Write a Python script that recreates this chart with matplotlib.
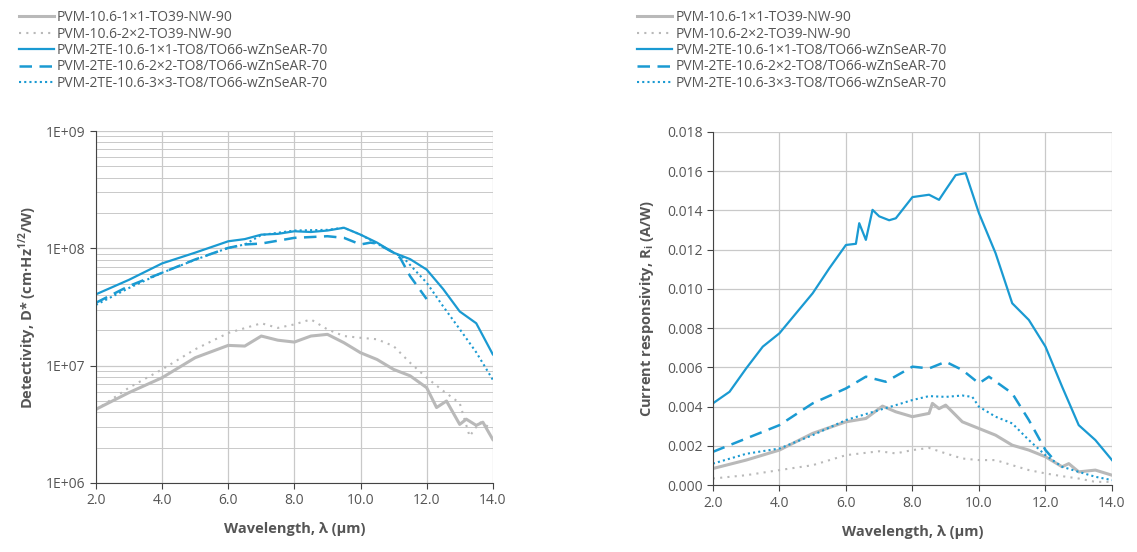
import matplotlib.pyplot as plt
from matplotlib.lines import Line2D
from matplotlib.ticker import FixedLocator, LogLocator, NullFormatter

plt.rcParams["font.family"] = ["Open Sans", "DejaVu Sans"]

BLUE = "#1a9ad2"
GRAY = "#b9b9b9"
TEXT = "#555555"
GRID = "#c9c9c9"

labels = [
    "PVM-10.6-1\u00d71-TO39-NW-90",
    "PVM-10.6-2\u00d72-TO39-NW-90",
    "PVM-2TE-10.6-1\u00d71-TO8/TO66-wZnSeAR-70",
    "PVM-2TE-10.6-2\u00d72-TO8/TO66-wZnSeAR-70",
    "PVM-2TE-10.6-3\u00d73-TO8/TO66-wZnSeAR-70",
]

# --- Detectivity (left chart) ---
d_gray1_x = [2, 3, 4, 5, 6, 6.5, 7, 7.5, 8, 8.5, 9, 9.5, 10, 10.5, 11, 11.5, 12, 12.3, 12.6, 13, 13.2, 13.5, 13.7, 14]
d_gray1_y = [4.25e6, 5.9e6, 7.9e6, 1.17e7, 1.49e7, 1.47e7, 1.79e7, 1.65e7, 1.59e7, 1.79e7, 1.85e7, 1.57e7,
             1.29e7, 1.13e7, 9.3e6, 8.2e6, 6.5e6, 4.4e6, 5.0e6, 3.16e6, 3.5e6, 3.1e6, 3.3e6, 2.35e6]
d_gray2_x = [2, 3, 4, 5, 6, 7, 7.5, 8, 8.5, 9, 9.5, 10, 10.5, 11, 11.5, 12, 12.5, 13, 13.3, 13.6, 14]
d_gray2_y = [4.2e6, 6.5e6, 9.3e6, 1.38e7, 1.9e7, 2.3e7, 2.1e7, 2.25e7, 2.48e7, 2.04e7, 1.79e7, 1.73e7,
             1.68e7, 1.47e7, 1.06e7, 7.9e6, 6.1e6, 4.8e6, 2.5e6, 3.3e6, 2.9e6]
d_blue1_x = [2, 3, 4, 5, 6, 6.5, 7, 7.5, 8, 8.5, 9, 9.5, 10, 10.5, 11, 11.5, 12, 12.5, 13, 13.5, 14]
d_blue1_y = [4.06e7, 5.4e7, 7.45e7, 9.2e7, 1.15e8, 1.2e8, 1.31e8, 1.33e8, 1.40e8, 1.38e8, 1.42e8, 1.5e8,
             1.31e8, 1.12e8, 9.2e7, 8.1e7, 6.6e7, 4.5e7, 2.9e7, 2.3e7, 1.25e7]
d_blue2_x = [2, 3, 4, 5, 6, 6.5, 7, 8, 9, 9.5, 10, 10.3, 10.5, 11, 11.2, 11.5, 12]
d_blue2_y = [3.44e7, 4.78e7, 6.2e7, 8.05e7, 1.01e8, 1.08e8, 1.1e8, 1.23e8, 1.27e8, 1.23e8, 1.08e8, 1.12e8,
             1.1e8, 9.2e7, 8.3e7, 5.8e7, 3.7e7]
d_blue3_x = [2, 3, 4, 5, 6, 6.5, 7, 8, 9, 9.5, 10, 11, 11.3, 12, 12.5, 13, 13.5, 14]
d_blue3_y = [3.3e7, 4.6e7, 6.2e7, 8.0e7, 1.01e8, 1.08e8, 1.3e8, 1.42e8, 1.44e8, 1.5e8, 1.31e8, 9.2e7,
             8.3e7, 5.1e7, 3.2e7, 2.05e7, 1.3e7, 7.6e6]

# --- Current responsivity (right chart) ---
r_gray1_x = [2, 3, 4, 5, 6, 6.6, 7.1, 7.5, 8, 8.5, 8.6, 8.8, 9, 9.5, 10, 10.5, 11, 11.5, 12, 12.5, 12.7, 13, 13.5, 14]
r_gray1_y = [0.00085, 0.00128, 0.00179, 0.00264, 0.00323, 0.0034, 0.00403, 0.00374, 0.00349, 0.00366, 0.00417,
             0.0039, 0.00408, 0.00323, 0.00289, 0.00255, 0.00204, 0.00179, 0.00145, 0.00094, 0.0011, 0.00068,
             0.00077, 0.00051]
r_gray2_x = [2, 3, 4, 5, 6, 7, 7.5, 8, 8.5, 9, 9.5, 10, 10.5, 11, 11.5, 12, 12.5, 13, 13.5, 14]
r_gray2_y = [0.00034, 0.00051, 0.00077, 0.00102, 0.00153, 0.00173, 0.00162, 0.00179, 0.0019, 0.00162, 0.00136,
             0.00128, 0.00128, 0.00102, 0.00077, 0.0006, 0.00046, 0.00034, 0.00017, 0.00017]
r_blue1_x = [2, 2.5, 3, 3.5, 4, 4.5, 5, 5.5, 6, 6.3, 6.4, 6.6, 6.8, 7, 7.3, 7.5, 8, 8.5, 8.8, 9, 9.3, 9.6,
             10, 10.5, 11, 11.5, 12, 12.5, 13, 13.5, 14]
r_blue1_y = [0.00417, 0.00476, 0.00595, 0.00706, 0.00774, 0.00876, 0.00978, 0.01105, 0.01224, 0.0123, 0.01335,
             0.0125, 0.01403, 0.0137, 0.0135, 0.0136, 0.01468, 0.0148, 0.01454, 0.01505, 0.0158, 0.0159,
             0.01386, 0.01182, 0.00927, 0.00842, 0.00706, 0.00502, 0.00306, 0.0023, 0.00128]
r_blue2_x = [2, 3, 4, 5, 6, 6.6, 7.2, 8, 8.5, 9, 9.5, 10, 10.3, 11, 11.5, 12, 12.2]
r_blue2_y = [0.0017, 0.00238, 0.00306, 0.00417, 0.00493, 0.00553, 0.00527, 0.00604, 0.00595, 0.00629, 0.00587,
             0.00519, 0.00553, 0.00468, 0.00332, 0.00179, 0.0014]
r_blue3_x = [2, 3, 4, 5, 6, 7, 7.5, 8, 8.5, 9, 9.5, 9.8, 10, 10.5, 11, 11.5, 12, 12.5, 13, 13.5, 14]
r_blue3_y = [0.0011, 0.0016, 0.00187, 0.00255, 0.00332, 0.00383, 0.00408, 0.00434, 0.00454, 0.0045, 0.00457,
             0.0045, 0.004, 0.00349, 0.00315, 0.0023, 0.00153, 0.00094, 0.00068, 0.00043, 0.00026]

styles = [
    dict(color=GRAY, lw=2.2, ls="-"),
    dict(color=GRAY, lw=1.5, ls=(0, (1, 2.5))),
    dict(color=BLUE, lw=1.6, ls="-"),
    dict(color=BLUE, lw=1.8, ls=(0, (5, 3))),
    dict(color=BLUE, lw=1.5, ls=(0, (1, 1.5))),
]

fig = plt.figure(figsize=(11.37, 5.52), dpi=100)
ax1 = fig.add_axes([0.0844, 0.125, 0.349, 0.6375])
ax2 = fig.add_axes([0.627, 0.121, 0.351, 0.640])

left_series = [(d_gray1_x, d_gray1_y), (d_gray2_x, d_gray2_y), (d_blue1_x, d_blue1_y),
               (d_blue2_x, d_blue2_y), (d_blue3_x, d_blue3_y)]
right_series = [(r_gray1_x, r_gray1_y), (r_gray2_x, r_gray2_y), (r_blue1_x, r_blue1_y),
                (r_blue2_x, r_blue2_y), (r_blue3_x, r_blue3_y)]

for (x, y), st in zip(left_series, styles):
    ax1.plot(x, y, **st)
for (x, y), st in zip(right_series, styles):
    ax2.plot(x, y, **st)

xticks = [2, 4, 6, 8, 10, 12, 14]
for ax in (ax1, ax2):
    ax.set_xlim(2, 14)
    ax.set_xticks(xticks)
    ax.set_xticklabels(["%.1f" % v for v in xticks])
    ax.grid(True, which="major", color=GRID, lw=0.9)
    ax.set_axisbelow(True)
    for s in ("top", "right"):
        ax.spines[s].set_visible(False)
    for s in ("left", "bottom"):
        ax.spines[s].set_color("#444444")
    ax.tick_params(colors=TEXT, labelsize=10, length=4, color="#444444")
    ax.set_xlabel("Wavelength, \u03bb (\u00b5m)", fontsize=10.5, fontweight="bold", color=TEXT, labelpad=10)

ax1.set_yscale("log")
ax1.set_ylim(1e6, 1e9)
ax1.set_yticks([1e6, 1e7, 1e8, 1e9])
ax1.set_yticklabels(["1E+06", "1E+07", "1E+08", "1E+09"])
ax1.yaxis.set_minor_locator(LogLocator(base=10, subs=range(2, 10)))
ax1.yaxis.set_minor_formatter(NullFormatter())
ax1.tick_params(axis="y", which="minor", length=0)
ax1.grid(True, which="minor", axis="y", color=GRID, lw=0.7)
ax1.set_ylabel("Detectivity, D* (cm\u00b7Hz$^{\\mathregular{1/2}}$/W)", fontsize=10.5, fontweight="bold",
               color=TEXT, labelpad=5)

ax2.set_ylim(0, 0.018)
ax2.yaxis.set_major_locator(FixedLocator([i * 0.002 for i in range(10)]))
ax2.set_yticklabels(["%.3f" % (i * 0.002) for i in range(10)])
ax2.set_ylabel("Current responsivity, R$_\\mathregular{i}$ (A/W)", fontsize=10.5, fontweight="bold",
               color=TEXT, labelpad=8)

handles = [Line2D([], [], **st) for st in styles]
for xpos in (0.008, 0.552):
    leg = fig.legend(handles, labels, loc="upper left", bbox_to_anchor=(xpos, 0.999), frameon=False,
                     fontsize=10, handlelength=2.5, handletextpad=0.25, labelspacing=0.1,
                     borderaxespad=0.3)
    for t in leg.get_texts():
        t.set_color(TEXT)

fig.savefig("out.png", dpi=100)
